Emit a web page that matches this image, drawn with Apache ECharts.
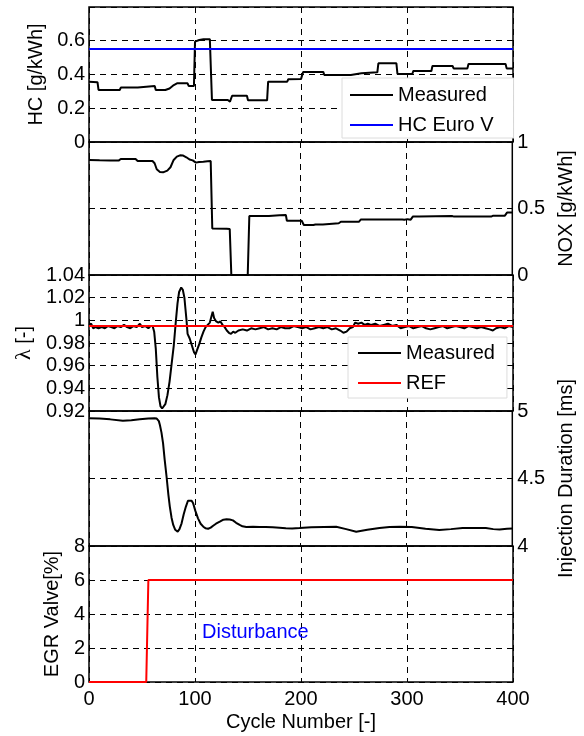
<!DOCTYPE html>
<html>
<head>
<meta charset="utf-8">
<script src="https://cdn.jsdelivr.net/npm/echarts@6/dist/echarts.min.js"></script>
<style>html,body{margin:0;padding:0;background:#fff;}#chart{width:584px;height:736px;}</style>
</head>
<body>
<div id="chart"></div>
<script>
// ---------- data ----------
const xTicks = [0, 100, 200, 300, 400];
const hcMeasured = [
  [0,0.355],[8,0.352],[9,0.306],[29,0.306],[30,0.32],[46,0.32],[47,0.33],[62,0.33],[63,0.306],[72,0.306],
  [76,0.315],[80,0.335],[83,0.345],[93,0.345],[94,0.33],[99,0.33],[100,0.59],[104,0.6],[108,0.605],[114,0.605],
  [116,0.247],[131,0.247],[133,0.237],[135,0.272],[149,0.272],[150,0.245],[168,0.245],[169,0.355],[187,0.355],
  [188,0.369],[200,0.37],[202,0.412],[221,0.412],[222,0.394],[247,0.394],[248,0.404],[257,0.404],[258,0.41],
  [272,0.41],[273,0.463],[290,0.463],[291,0.4],[305,0.4],[306,0.418],[323,0.418],[324,0.447],[343,0.447],
  [344,0.433],[357,0.433],[358,0.459],[393,0.459],[394,0.433],[400,0.433]
];
const hcEuroV = [[0,0.547],[400,0.547]];
const noxMeasured = [
  [0,0.865],[10,0.862],[20,0.86],[28,0.86],[30,0.872],[44,0.872],[46,0.857],[60,0.857],[62,0.84],[64,0.795],
  [67,0.775],[70,0.772],[74,0.785],[77,0.81],[80,0.865],[83,0.89],[86,0.9],[89,0.898],[92,0.885],[95,0.868],
  [98,0.862],[101,0.845],[104,0.85],[108,0.852],[112,0.855],[115,0.857],[116.5,0.35],[130,0.348],[133,0.345],
  [134.5,0.0],[150,0.0],[151.5,0.443],[170,0.444],[180,0.45],[186,0.452],[187,0.408],[201,0.408],[203,0.376],
  [212,0.376],[214,0.38],[221,0.38],[222,0.389],[236,0.389],[238,0.4],[255,0.4],[257,0.418],[296,0.418],
  [298,0.415],[301,0.42],[304,0.416],[306,0.439],[312,0.44],[313,0.443],[343,0.443],[345,0.439],[380,0.439],
  [382,0.446],[393,0.446],[395,0.469],[400,0.469]
];
const lambdaMeasured = [
  [0,0.996],[2,0.997],[4,0.993],[6,0.994],[9,0.993],[12,0.994],[15,0.993],[18,0.995],[21,0.994],[24,0.993],
  [27,0.995],[30,0.994],[33,0.996],[36,0.994],[39,0.993],[42,0.995],[45,0.994],[48,0.997],[50,0.994],[53,0.995],
  [56,0.993],[58,0.995],[60,0.995],[61.5,0.99],[63,0.975],[64.5,0.95],[66,0.932],[67.5,0.924],[69,0.9222],
  [70.5,0.9224],[72,0.926],[74,0.934],[76,0.946],[78,0.962],[80,0.978],[82,1.0],[83.5,1.015],[85,1.025],
  [87,1.029],[88.5,1.027],[90,1.02],[91,1.01],[92,1.0],[93,0.988],[95,0.984],[97,0.978],[99,0.972],[100.5,0.97],
  [102,0.974],[104,0.979],[106,0.985],[108,0.99],[110,0.994],[112,0.996],[114,0.998],[115.5,0.997],[116.7,1.0076],
  [118,1.002],[120,0.999],[122,0.998],[124,0.999],[126,0.996],[128,0.994],[130,0.991],[132,0.989],[134,0.988],
  [136,0.99],[138,0.989],[141,0.991],[145,0.992],[149,0.991],[153,0.993],[157,0.992],[161,0.993],[165,0.994],
  [169,0.992],[173,0.993],[177,0.992],[181,0.994],[185,0.993],[189,0.993],[193,0.995],[197,0.994],[201,0.993],
  [205,0.994],[209,0.992],[213,0.993],[217,0.994],[221,0.993],[225,0.994],[229,0.992],[233,0.993],[237,0.991],
  [240,0.989],[243,0.99],[246,0.993],[249,0.994],[251,0.998],[254,0.997],[257,0.998],[260,0.996],[263,0.997],
  [266,0.996],[270,0.997],[274,0.995],[278,0.996],[282,0.997],[286,0.995],[290,0.996],[294,0.993],[298,0.994],
  [302,0.995],[306,0.993],[310,0.994],[314,0.995],[318,0.993],[322,0.992],[326,0.993],[330,0.994],[334,0.995],
  [338,0.993],[342,0.994],[346,0.995],[350,0.994],[354,0.993],[358,0.995],[362,0.994],[366,0.993],[370,0.994],
  [374,0.993],[378,0.992],[381,0.991],[384,0.993],[388,0.994],[392,0.993],[396,0.995],[400,0.994]
];
const lambdaRef = [[0,0.995],[400,0.995]];
const injMeasured = [
  [0,4.946],[10,4.944],[20,4.938],[32,4.928],[40,4.932],[48,4.938],[56,4.944],[62,4.946],[64,4.944],[66,4.925],
  [67,4.896],[68.5,4.84],[70,4.76],[71.5,4.64],[73.3,4.513],[75,4.38],[76.4,4.29],[78,4.21],[79.6,4.156],
  [81.5,4.12],[83.8,4.106],[85.5,4.125],[87.5,4.168],[89.5,4.235],[91.5,4.29],[93.5,4.335],[95.3,4.346],
  [97,4.335],[98.4,4.316],[100.5,4.26],[103,4.205],[105.5,4.165],[108,4.143],[110,4.132],[112.6,4.128],
  [115,4.136],[117.3,4.15],[120,4.165],[123.6,4.18],[127,4.195],[130,4.198],[133,4.196],[136,4.19],[139,4.172],
  [142.4,4.156],[145,4.146],[148.7,4.14],[155,4.142],[161,4.14],[167,4.141],[173.6,4.138],[180,4.135],
  [186,4.131],[192,4.13],[199,4.133],[210,4.138],[222,4.141],[233.6,4.143],[243,4.125],[252.5,4.106],
  [263,4.12],[274.5,4.133],[284,4.14],[293.5,4.143],[305,4.141],[318,4.128],[331,4.119],[342,4.125],
  [353,4.133],[364,4.133],[375,4.133],[382,4.125],[388,4.122],[395,4.127],[400,4.129]
];
const egrValve = [[0,0],[54,0],[56,6],[400,6]];

// ---------- chart ----------
const FONT = 'Liberation Sans, Arial, Helvetica, sans-serif';
const chart = echarts.init(document.getElementById('chart'), null, {renderer: 'canvas'});
const panels = [
  {top: 7, height: 135},
  {top: 142, height: 133},
  {top: 275, height: 136},
  {top: 411, height: 135},
  {top: 546, height: 136}
];
const dash = {color: '#000', type: [6, 5], width: 1};
const grids = panels.map(p => ({left: 89, right: 71, top: p.top, height: p.height, show: true,
  borderColor: '#000', borderWidth: 1.5, backgroundColor: 'transparent'}));
const xAxes = panels.map((p, i) => ({
  type: 'value', gridIndex: i, min: xTicks[0], max: xTicks[xTicks.length - 1], interval: 100,
  axisLine: {show: false}, axisTick: {show: false},
  axisLabel: {show: i === 4, margin: 7, fontSize: 20, fontFamily: FONT, color: '#000'},
  splitLine: {show: true, lineStyle: dash},
  name: i === 4 ? 'Cycle Number [-]' : '', nameLocation: 'middle', nameGap: 30,
  nameTextStyle: {fontSize: 20, fontFamily: FONT, color: '#000'}
}));
function yAx(i, o) {
  return Object.assign({
    type: 'value', gridIndex: i, axisLine: {show: false}, axisTick: {show: false},
    splitLine: {show: true, lineStyle: dash},
    nameLocation: 'middle', nameRotate: 90,
    nameTextStyle: {fontSize: 20, fontFamily: FONT, color: '#000'}
  }, o);
}
const lab = (m, fmt) => ({margin: m, fontSize: 20, fontFamily: FONT, color: '#000', formatter: fmt});
const yAxes = [
  yAx(0, {position: 'left', min: 0, max: 0.794, interval: 0.2, name: 'HC [g/kWh]', nameGap: 43,
    axisLabel: Object.assign(lab(4, v => String(+v.toFixed(1))), {showMaxLabel: false})}),
  yAx(1, {position: 'right', min: 0, max: 1, interval: 0.5, name: 'NOX [g/kWh]', nameGap: 40,
    axisLabel: lab(5, v => String(+v.toFixed(1)))}),
  yAx(2, {position: 'left', min: 0.92, max: 1.04, interval: 0.02, name: '{l|λ} [-]', nameGap: 54,
    nameTextStyle: {fontSize: 20, fontFamily: FONT, color: '#000',
      rich: {l: {fontSize: 22, fontFamily: 'Liberation Serif, DejaVu Serif, serif', color: '#000'}}},
    axisLabel: lab(4, v => String(+v.toFixed(2)))}),
  yAx(3, {position: 'right', min: 4, max: 5, interval: 0.5, name: 'Injection Duration [ms]', nameGap: 40,
    axisLabel: lab(5, v => String(+v.toFixed(1)))}),
  yAx(4, {position: 'left', min: 0, max: 8, interval: 2, name: 'EGR Valve[%]', nameGap: 27,
    axisLabel: lab(4, v => String(v))})
];
function line(name, i, data, color, z) {
  return {name: name, type: 'line', xAxisIndex: i, yAxisIndex: i, data: data, symbol: 'none',
    showSymbol: false, lineStyle: {color: color, width: 2}, itemStyle: {color: color}, z: z || 2,
    animation: false, silent: true};
}
const legendBase = {orient: 'vertical', itemGap: 10, itemWidth: 43, itemHeight: 2, icon: 'rect',
  textStyle: {fontSize: 20, fontFamily: FONT, color: '#000', lineHeight: 20},
  borderColor: '#dcdcdc', borderWidth: 1, backgroundColor: '#fff', selectedMode: false, z: 10};
const option = {
  animation: false,
  backgroundColor: '#fff',
  grid: grids,
  xAxis: xAxes,
  yAxis: yAxes,
  legend: [
    Object.assign({}, legendBase, {left: 342, top: 78, padding: [7, 20, 3, 8], data: ['Measured', 'HC Euro V']}),
    Object.assign({}, legendBase, {left: 348, top: 337, padding: [6, 12, 5, 10], data: ['Measured', 'REF']})
  ],
  series: [
    line('Measured', 0, hcMeasured, '#000', 2),
    line('HC Euro V', 0, hcEuroV, '#0000ff', 3),
    line('NOX', 1, noxMeasured, '#000', 2),
    line('Measured', 2, lambdaMeasured, '#000', 2),
    line('REF', 2, lambdaRef, '#ff0000', 3),
    line('Injection', 3, injMeasured, '#000', 2),
    line('EGR', 4, egrValve, '#ff0000', 2)
  ],
  graphic: [
    {type: 'text', left: 202, top: 622, z: 20,
     style: {text: 'Disturbance', fill: '#0000ff', font: '20px ' + FONT}}
  ]
};
chart.setOption(option);
</script>
</body>
</html>
